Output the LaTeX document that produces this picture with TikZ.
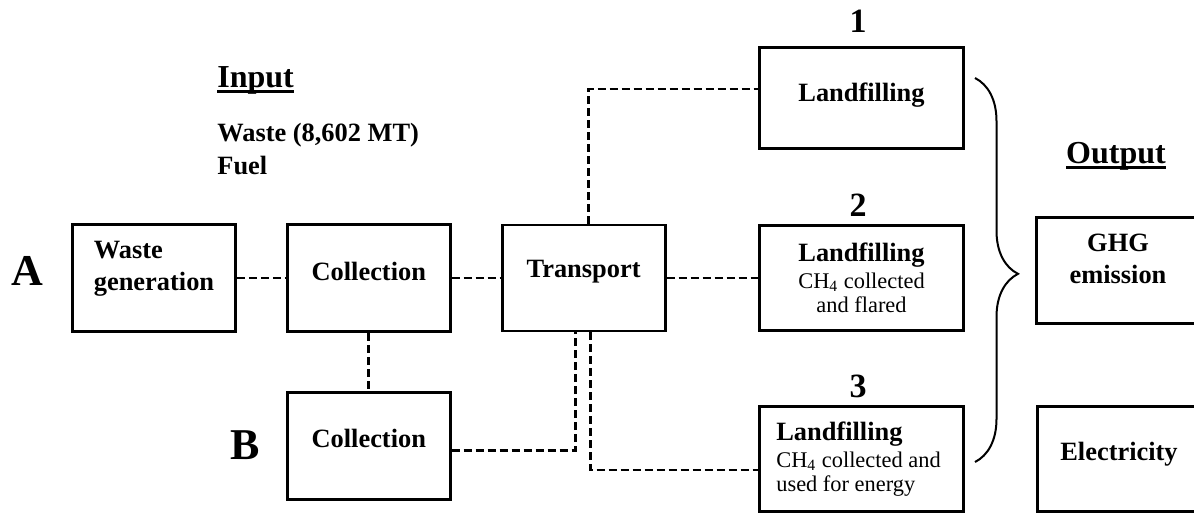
\documentclass[tikz,border=0pt]{standalone}
\usepackage{fontspec}
\setmainfont{Liberation Serif}
\usetikzlibrary{positioning, decorations.pathreplacing}

\newsavebox{\undlbox}
\newcommand{\undl}[1]{\sbox{\undlbox}{#1}\rlap{\rule[-3pt]{\wd\undlbox}{1.5pt}}\usebox{\undlbox}}

\begin{document}
\begin{tikzpicture}[x=0.5pt, y=-0.5pt,
    node distance=28.8pt and 24.5pt,
    box/.style={rectangle, draw=black, line width=1.4pt,
                minimum width=81.5pt, minimum height=53.7pt, inner sep=0pt},
    lfbox/.style={box, minimum width=101.7pt, minimum height=52.7pt},
    boxtxt/.style={font=\fontsize{13.2}{16}\selectfont\bfseries, align=center, inner sep=0pt},
    subtxt/.style={font=\fontsize{11.2}{12}\selectfont, inner sep=0pt},
    num/.style={font=\fontsize{17}{20}\selectfont\bfseries, inner sep=0pt},
    letter/.style={font=\fontsize{22}{26}\selectfont\bfseries, inner sep=0pt},
    head/.style={font=\fontsize{16}{19}\selectfont\bfseries, inner sep=0pt},
    link/.style={line width=1.45pt, dash pattern=on 4pt off 2pt},
    brace/.style={line width=1pt, decorate,
                  decoration={brace, amplitude=21.5pt, aspect=0.51}}
]
\clip (0,0) rectangle (1194,516);

% chain A / B
\node[box, label={[boxtxt, align=left, yshift=4.75pt]center:{Waste\\generation}}] (wg) at (154,278) {};
\node[box, right=of wg, label={[boxtxt, yshift=3.5pt]center:Collection}] (colA) {};
\node[box, right=of colA, minimum height=53pt, label={[boxtxt, yshift=3pt]center:Transport}] (trans) {};
\node[box, below=of colA, label={[boxtxt, yshift=3.5pt]center:Collection}] (colB) {};

\node[letter] (la) at (27,271) {A};
\node[letter] (lb) at (245,445) {B};

% landfill options
\node[lfbox, minimum height=50.7pt, label={[boxtxt, yshift=1.5pt]center:Landfilling}] (lf1) at (861.5,98) {};
\node[lfbox, label={[subtxt, align=center]center:{{\fontsize{13.2}{16}\selectfont\bfseries Landfilling}\\[1.5pt]CH\textsubscript{4} collected\\and flared}}] (lf2) at (861.5,278) {};
\node[lfbox, label={[subtxt, align=left, xshift=-1.5pt]center:{{\fontsize{13.2}{16}\selectfont\bfseries Landfilling}\\[1.5pt]CH\textsubscript{4} collected and\\used for energy}}] (lf3) at (861.5,459) {};

\node[num] (n1) at (858,21.5) {1};
\node[num] (n2) at (858,205) {2};
\node[num] (n3) at (858,386) {3};

% outputs
\node[box, minimum height=53.2pt, label={[boxtxt, yshift=5.75pt]center:{GHG\\emission}}] (ghg) at (1118,270.5) {};
\node[box, minimum height=52.7pt, label={[boxtxt, yshift=2.5pt]center:Electricity}] (elec) at (1119,459) {};

% inputs
\node[head, anchor=base west] (input) at (217,87) {\undl{Input}};
\node[boxtxt, anchor=base west] (inwaste) at (217,141.7) {Waste (8,602 MT)};
\node[boxtxt, anchor=base west] (infuel) at (217,174) {Fuel};
\node[head, anchor=base] (output) at (1116,163) {\undl{Output}};

\draw[link] (wg) -- (colA);
\draw[link] (colA) -- (trans);
\draw[link] (colA) -- (colB);
\draw[link] (trans) -- (lf2);
\draw[link] ([xshift=2.25pt]trans.north) |- ([yshift=4.5pt]lf1.west);
\draw[link] ([yshift=-2.5pt]colB.east) -| ([xshift=-4.25pt]trans.south);
\draw[link] ([xshift=3.25pt]trans.south) |- ([yshift=-5.5pt]lf3.west);

\coordinate (brtop) at (975,78);
\coordinate (brbot) at (975,462);
\draw[brace] (brtop) -- (brbot);
\end{tikzpicture}
\end{document}
